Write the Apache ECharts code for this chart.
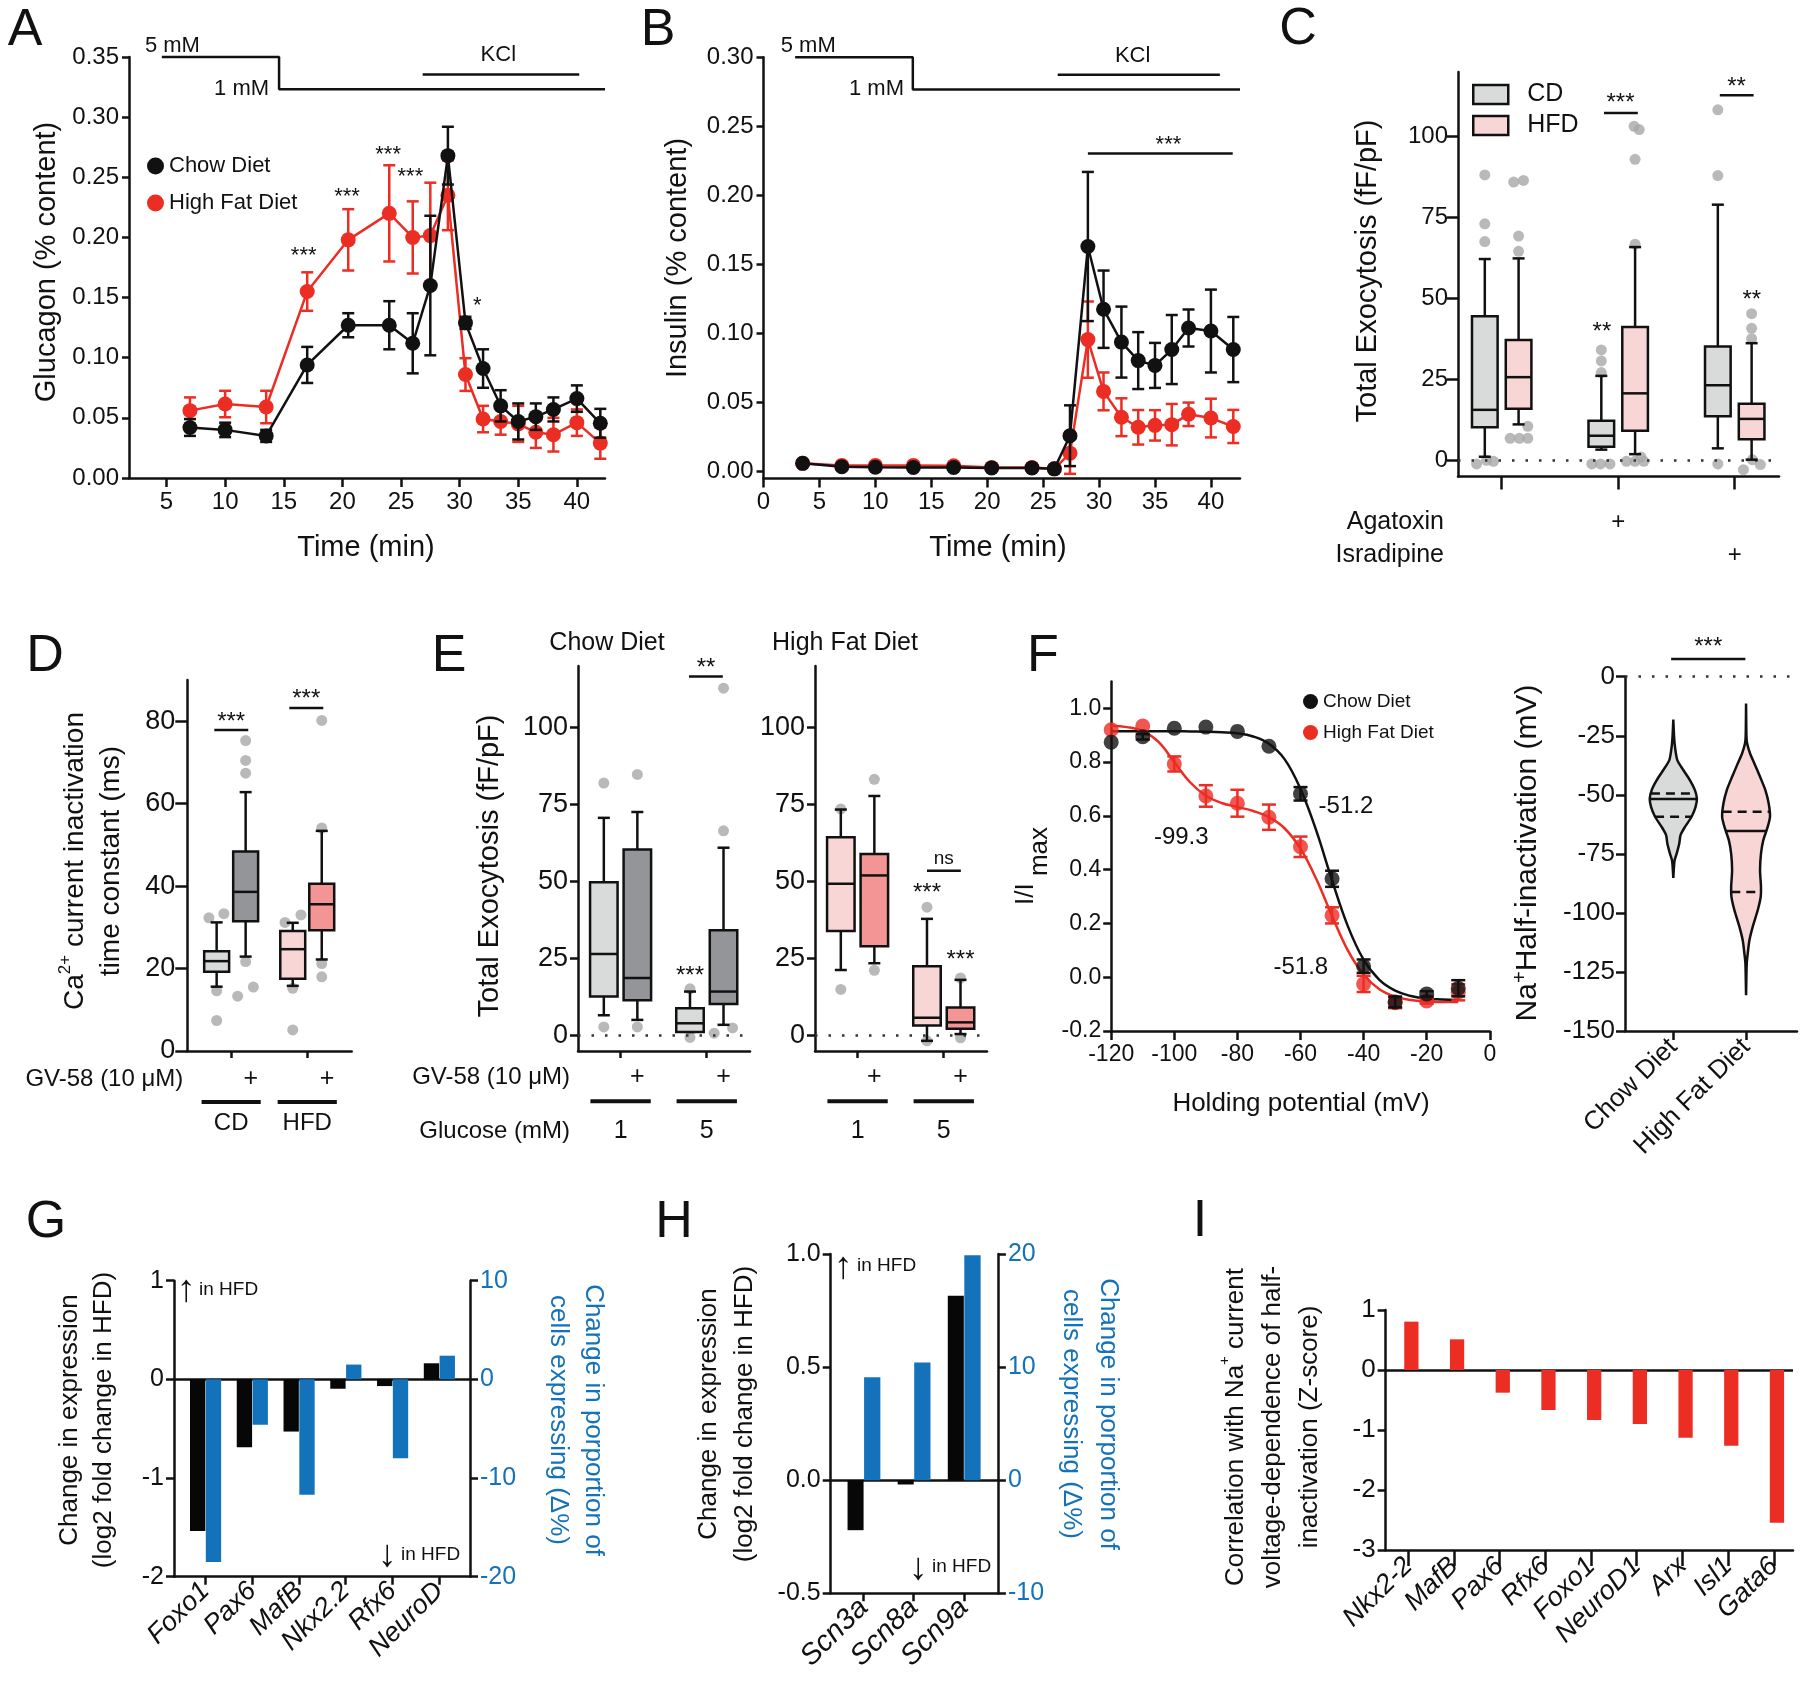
<!DOCTYPE html>
<html><head><meta charset="utf-8">
<script src="https://cdn.jsdelivr.net/npm/echarts@6/dist/echarts.min.js"></script>
<style>html,body{margin:0;padding:0;background:#fff}#c{width:1800px;height:1684px}</style>
</head><body><div id="c"></div>
<script>
// ================= DATA =================
// Panel A – glucagon secretion (% content)
const timeA = [7, 10, 13.5, 17, 20.5, 24, 26, 27.5, 29, 30.5, 32, 33.5, 35, 36.5, 38, 40, 42];
const glucagonChow    = [0.042, 0.040, 0.035, 0.094, 0.127, 0.127, 0.112, 0.160, 0.268, 0.129, 0.091, 0.060, 0.047, 0.051, 0.057, 0.066, 0.0455];
const glucagonChowErr = [0.007, 0.006, 0.005, 0.015, 0.010, 0.020, 0.025, 0.058, 0.024, 0.005, 0.016, 0.013, 0.015, 0.011, 0.010, 0.011, 0.012];
const glucagonHFD     = [0.056, 0.0615, 0.059, 0.155, 0.198, 0.220, 0.200, 0.2015, 0.235, 0.086, 0.049, 0.047, 0.045, 0.038, 0.036, 0.046, 0.029];
const glucagonHFDErr  = [0.011, 0.011, 0.0135, 0.016, 0.0255, 0.040, 0.030, 0.044, 0.029, 0.0136, 0.011, 0.011, 0.015, 0.013, 0.014, 0.011, 0.013];
const ticksTime = [5, 10, 15, 20, 25, 30, 35, 40];
const ticksGlucagon = [0, 0.05, 0.10, 0.15, 0.20, 0.25, 0.30, 0.35];
const stepA = [[4.6, 0.35], [14.6, 0.35], [14.6, 0.3232], [42.4, 0.3232]];
const kclA = [[26.85, 0.3355], [40.2, 0.3355]];
// [text, x1, x2, yLine, textX, textY]
const notesA = [
  ['***', null, null, null, 16.7, 0.1886], ['***', null, null, null, 20.4, 0.238],
  ['***', null, null, null, 23.9, 0.273], ['***', null, null, null, 25.8, 0.2547],
  ['*', null, null, null, 31.5, 0.147], ['5 mM', null, null, null, 5.5, 0.359],
  ['1 mM', null, null, null, 11.4, 0.3238], ['KCl', null, null, null, 33.3, 0.3515]
];

// Panel B – insulin secretion (% content)
const timeB = [3.5, 7, 10, 13.4, 17, 20.4, 24, 26, 27.4, 29, 30.4, 32, 33.5, 35, 36.5, 38, 40, 42];
const insulinChow    = [0.006, 0.0035, 0.0032, 0.003, 0.003, 0.0027, 0.0027, 0.002, 0.026, 0.163, 0.1176, 0.0938, 0.0804, 0.0769, 0.0884, 0.104, 0.1018, 0.0884];
const insulinChowErr = [0, 0, 0, 0, 0, 0, 0, 0, 0.022, 0.054, 0.028, 0.0257, 0.0206, 0.0163, 0.025, 0.0134, 0.030, 0.0236];
const insulinHFD     = [0.006, 0.0045, 0.0045, 0.0045, 0.0042, 0.003, 0.003, 0.002, 0.0134, 0.0956, 0.0581, 0.0394, 0.0321, 0.0335, 0.034, 0.0415, 0.0388, 0.0327];
const insulinHFDErr  = [0, 0, 0, 0, 0, 0, 0, 0, 0.015, 0.0276, 0.0137, 0.0137, 0.0125, 0.011, 0.015, 0.0085, 0.014, 0.012];
const ticksTimeB = [0, 5, 10, 15, 20, 25, 30, 35, 40];
const ticksInsulin = [0, 0.05, 0.10, 0.15, 0.20, 0.25, 0.30];
const stepB = [[2.83, 0.30], [13.35, 0.30], [13.35, 0.2767], [42.6, 0.2767]];
const kclB = [[26.3, 0.2874], [40.8, 0.2874]];
const notesB = [
  ['5 mM', null, null, null, 4.0, 0.308], ['1 mM', null, null, null, 10.1, 0.277],
  ['KCl', null, null, null, 33.0, 0.3013], ['***', 29.0, 41.95, 0.2303, 36.2, 0.240]
];

// Panel C – total exocytosis, box = [min, q1, median, q3, max]
const groupsC = ['Control', 'Agatoxin', 'Isradipine'];
const boxC_CD  = [[1.1, 10.2, 15.6, 44.5, 62.2], [3.3, 4.2, 7.6, 12.2, 26.1], [3.7, 13.6, 23.2, 35.2, 79.0]];
const boxC_HFD = [[11.1, 15.9, 25.7, 37.2, 62.4], [1.9, 9.1, 20.7, 41.2, 65.9], [0.2, 6.5, 12.8, 17.5, 36.2]];
// outliers: [offset within box width, value]
const outC_CD = [
  [[0, 88.2], [0, 73.1], [0, 67.6], [-0.32, -1.1], [0.07, 0], [0.34, -0.3]],
  [[0, 34.1], [0, 30.7], [0, 27.1], [-0.37, -1.1], [-0.03, -1.1], [0.34, -1.1]],
  [[0, 108.3], [0, 88.0], [0, -1.1]]
];
const outC_HFD = [
  [[-0.19, 86.0], [0.19, 86.5], [0, 69.3], [0, 64.6], [0.36, 10.5], [-0.33, 6.8], [0.03, 6.8], [0.36, 6.8]],
  [[-0.04, 103.2], [0.16, 102.2], [0, 93.0], [0, 66.8], [-0.34, -0.3], [0, -0.3], [0.34, -0.3], [0.23, 1.0]],
  [[0, 45.3], [0, 40.8], [0, 37.6], [0.03, 0.2], [-0.32, -2.9], [0.34, -1.3]]
];
const ticksExo = [0, 25, 50, 75, 100];
const notesC = [
  ['**', null, null, null, 0.86, 41.3], ['***', 0.878, 1.168, 107.3, 1.02, 111.8],
  ['**', 1.872, 2.162, 112.8, 2.015, 117], ['**', null, null, null, 2.146, 51]
];

// Panel D – Ca2+ current inactivation time constant (ms)
const groupsD = ['CD', 'HFD'];
const boxD_ctrl = [[15.6, 19.2, 21.8, 24.2, 31.2], [15.8, 17.5, 24.7, 29.1, 31.1]];
const boxD_gv   = [[22.9, 31.5, 38.6, 48.4, 62.8], [22.2, 29.3, 35.6, 40.6, 53.4]];
const outD_ctrl = [
  [[-0.31, 32.3], [0.29, 33.3], [0, 14.6], [0, 7.4]],
  [[-0.31, 31.2], [0.33, 33.0], [0, 15.2], [0, 5.1]]
];
const outD_gv = [
  [[0, 75.3], [0, 70.5], [0, 67.4], [0, 21.7], [-0.32, 13.3], [0.31, 15.5]],
  [[0, 80.2], [0, 54.1], [0, 21.2], [0, 18.0]]
];
const ticksTau = [0, 20, 40, 60, 80];
const notesD = [['***', -0.58, 0.59, 77.9, 0, 81], ['***', 2.005, 3.178, 83.2, 2.59, 86.5]];

// Panel E – total exocytosis with GV-58 at 1 and 5 mM glucose
const glucoseE = ['1', '5'];
const boxE_chow_ctrl = [[6.6, 12.7, 26.5, 49.8, 70.7], [1.2, 1.2, 4.0, 8.9, 14.3]];
const boxE_chow_gv   = [[5.1, 11.5, 18.7, 60.4, 72.6], [3.5, 10.3, 14.3, 34.2, 61.0]];
const boxE_hfd_ctrl  = [[21.3, 34.0, 49.3, 64.4, 73.4], [-1.7, 3.3, 5.8, 22.5, 37.9]];
const boxE_hfd_gv    = [[23.5, 29.0, 52.0, 59.0, 77.8], [0.5, 2.2, 4.3, 9.1, 18.1]];
const outE_chow_ctrl = [[[0, 82.0], [0, 2.8]], [[0, 15.2], [0, -0.6]]];
const outE_chow_gv   = [[[0, 84.8], [0, 2.8]], [[0, 112.8], [0, 66.5], [-0.34, 0.8], [0.33, 2.5]]];
const outE_hfd_ctrl  = [[[0, 73.6], [0, 15.0]], [[0, 41.7], [0, -1.7]]];
const outE_hfd_gv    = [[[0, 83.2], [0, 21.2]], [[0, 18.7], [0, -0.7]]];
const notesEchow = [['***', null, null, null, 2.07, 21], ['**', 2.04, 3.05, 116.6, 2.55, 121]];
const notesEhfd = [['***', null, null, null, 2.07, 48], ['***', null, null, null, 3.07, 26.2], ['ns', 2.07, 3.08, 53.5, 2.57, 57.5, 19]];

// Panel F – steady-state inactivation
const holdingV = [-120, -110, -100, -90, -80, -70, -60, -50, -40, -30, -20, -10];
const iChow    = [0.874, 0.894, 0.926, 0.930, 0.914, 0.859, 0.682, 0.366, 0.041, -0.092, -0.062, -0.041];
const iChowErr = [0, 0.01, 0, 0, 0, 0, 0.025, 0.03, 0.025, 0.02, 0.01, 0.03];
const iHFD     = [0.920, 0.934, 0.793, 0.674, 0.647, 0.595, 0.485, 0.230, -0.025, -0.095, -0.088, -0.056];
const iHFDErr  = [0, 0, 0.028, 0.04, 0.05, 0.047, 0.038, 0.03, 0.03, 0.02, 0.01, 0.03];
const fitV     = [-120, -115, -110, -105, -100, -95, -90, -85, -80, -75, -70, -65, -60, -55, -50, -45, -40, -35, -30, -25, -20, -15, -10];
const fitChow  = [0.915, 0.915, 0.915, 0.915, 0.915, 0.914, 0.913, 0.911, 0.907, 0.895, 0.868, 0.81, 0.70, 0.545, 0.36, 0.19, 0.065, -0.01, -0.05, -0.07, -0.08, -0.083, -0.085];
const fitHFD   = [0.935, 0.93, 0.915, 0.875, 0.80, 0.725, 0.675, 0.648, 0.633, 0.618, 0.595, 0.553, 0.478, 0.365, 0.228, 0.10, 0.01, -0.045, -0.072, -0.085, -0.09, -0.092, -0.092];
const ticksV = [-120, -100, -80, -60, -40, -20, 0];
const ticksI = [-0.2, 0, 0.2, 0.4, 0.6, 0.8, 1.0];
const notesF = [['-51.2', null, null, null, -45.6, 0.634, 24], ['-99.3', null, null, null, -97.8, 0.521, 24], ['-51.8', null, null, null, -59.9, 0.038, 24]];
// violin: [value (mV), half width]
const dietsF = ['Chow Diet', 'High Fat Diet'];
const violinChow = [[-18.1, 0], [-25, 0.01], [-29.7, 0.023], [-35.3, 0.055], [-39.5, 0.137], [-43.8, 0.228], [-48, 0.297], [-51.6, 0.324], [-55.1, 0.306], [-59.3, 0.251], [-63.6, 0.16], [-67, 0.10], [-70.6, 0.082], [-74.9, 0.046], [-77.7, 0.018], [-80.5, 0.009], [-85.2, 0]];
const violinHFD = [[-11.3, 0], [-25, 0.005], [-28.2, 0.014], [-32.5, 0.055], [-36.7, 0.114], [-42.4, 0.192], [-48, 0.265], [-53.7, 0.311], [-59.3, 0.329], [-63.6, 0.297], [-69.2, 0.237], [-74.9, 0.205], [-81.9, 0.192], [-89, 0.205], [-93.2, 0.201], [-98.9, 0.16], [-105.9, 0.091], [-111.6, 0.046], [-117.2, 0.023], [-121.5, 0.009], [-134.9, 0]];
const quartChow = { median: -51.8, q: [-49.4, -59.3] };
const quartHFD = { median: -65.3, q: [-57.2, -91.1] };
const ticksHalf = [-150, -125, -100, -75, -50, -25, 0];
const notesF2 = [['***', -0.03, 0.99, 7.5, 0.48, 14.5]];

// Panel G – transcription factors
const genesG = ['Foxo1', 'Pax6', 'MafB', 'Nkx2.2', 'Rfx6', 'NeuroD'];
const log2FCG = [-1.536, -0.688, -0.529, -0.095, -0.068, 0.163];
const deltaPctG = [-18.5, -4.6, -11.7, 1.5, -8.0, 2.4];
// Panel H – Na+ channel genes
const genesH = ['Scn3a', 'Scn8a', 'Scn9a'];
const log2FCH = [-0.221, -0.019, 0.815];
const deltaPctH = [9.1, 10.4, 19.9];
// Panel I – correlation Z-scores
const genesI = ['Nkx2-2', 'MafB', 'Pax6', 'Rfx6', 'Foxo1', 'NeuroD1', 'Arx', 'Isl1', 'Gata6'];
const zScoreI = [0.806, 0.511, -0.378, -0.667, -0.833, -0.90, -1.128, -1.261, -2.544];

// ================= STYLE / HELPERS =================
const FONT = '"Liberation Sans", Arial, Helvetica, sans-serif';
const BLK = '#111111', RED = '#ec2d24', BLUE = '#1472bb', GREY = '#a8a8a8';
const C_CD = '#d9dbdb', C_CDGV = '#939598', C_HFD = '#f9d6d6', C_HFDGV = '#f29594';

const grid = [], xAxis = [], yAxis = [], series = [], graphic = [];
function clean(o) {
  if (o && typeof o === 'object' && !Array.isArray(o)) {
    for (const k of Object.keys(o)) { if (o[k] === undefined) delete o[k]; else clean(o[k]); }
  }
  return o;
}
function gridAt(l, t, w, h) { grid.push({ left: l, top: t, width: w, height: h, outerBoundsMode: 'none', containLabel: false }); return grid.length - 1; }
function vAxis(gi, min, max, o) {
  o = o || {};
  return clean({
    type: 'value', gridIndex: gi, min: min, max: max, position: o.pos, offset: o.offset, silent: true,
    axisLine: { show: o.line !== false, onZero: false, lineStyle: { color: BLK, width: 2.5 } },
    axisTick: { show: !!o.ticks, customValues: o.ticks, length: o.tl || 9, lineStyle: { color: BLK, width: 2.5 } },
    axisLabel: { show: !!o.labels, customValues: o.labels, formatter: o.fmt, color: o.lc || BLK, fontFamily: FONT,
      fontSize: o.fs || 24, margin: (o.margin == null ? 10 : o.margin), rotate: o.rot,
      fontStyle: o.italic ? 'italic' : 'normal', verticalAlign: o.va },
    splitLine: { show: false },
    name: o.name, nameLocation: o.nameLoc, nameGap: o.nameGap,
    nameTextStyle: o.name ? { fontFamily: FONT, fontSize: o.nfs || 24, color: BLK, align: 'right', verticalAlign: 'middle' } : undefined
  });
}
function addX(a) { if (!a.position) a.position = 'bottom'; xAxis.push(a); return xAxis.length - 1; }
function addY(a) { if (!a.position) a.position = 'left'; yAxis.push(a); return yAxis.length - 1; }
function S(o) { series.push(clean(o)); }
function nearest(v, arr) { let b = 0; arr.forEach((a, i) => { if (Math.abs(a - v) < Math.abs(arr[b] - v)) b = i; }); return b; }

function errSeries(xi, yi, xs, ys, es, color, capHalf, z) {
  S({ type: 'custom', xAxisIndex: xi, yAxisIndex: yi, silent: true, clip: false, z: z,
    data: xs.map((x, i) => [x, ys[i], es[i]]),
    renderItem: function (p, api) {
      const x = api.value(0), m = api.value(1), e = api.value(2);
      if (!e) return null;
      const t = api.coord([x, m + e]), b = api.coord([x, m - e]);
      const st = { stroke: color, lineWidth: 2.5 };
      return { type: 'group', children: [
        { type: 'line', shape: { x1: t[0], y1: t[1], x2: b[0], y2: b[1] }, style: st },
        { type: 'line', shape: { x1: t[0] - capHalf, y1: t[1], x2: t[0] + capHalf, y2: t[1] }, style: st },
        { type: 'line', shape: { x1: b[0] - capHalf, y1: b[1], x2: b[0] + capHalf, y2: b[1] }, style: st }] };
    } });
}
function dotLine(name, xi, yi, xs, ys, color, size, z) {
  S({ type: 'line', name: name, xAxisIndex: xi, yAxisIndex: yi, data: xs.map((x, i) => [x, ys[i]]), symbol: 'circle',
    symbolSize: size, itemStyle: { color: color }, lineStyle: { color: color, width: 2.5 }, silent: true, z: z });
}
function plainLine(xi, yi, pts, z) {
  S({ type: 'line', xAxisIndex: xi, yAxisIndex: yi, data: pts, symbol: 'none', clip: false, silent: true, z: z || 1,
    lineStyle: { color: BLK, width: 2.5 } });
}
function notes(xi, yi, items, fs) {
  S({ type: 'custom', xAxisIndex: xi, yAxisIndex: yi, silent: true, clip: false, z: 20,
    data: items.map(it => [it[4], it[5]]),
    renderItem: function (p, api) {
      const it = items[p.dataIndex];
      const ch = [];
      if (it[1] != null) {
        const a = api.coord([it[1], it[3]]), b = api.coord([it[2], it[3]]);
        ch.push({ type: 'line', shape: { x1: a[0], y1: a[1], x2: b[0], y2: b[1] }, style: { stroke: BLK, lineWidth: 2.5 } });
      }
      const size = it[6] || fs;
      const q = api.coord([it[4], it[5]]);
      const dy = it[0].indexOf('*') >= 0 ? size * 0.22 : 0;
      ch.push({ type: 'text', x: q[0], y: q[1] + dy, style: { text: it[0], fontSize: size, fontFamily: FONT, fill: BLK, align: 'center', verticalAlign: 'middle' } });
      return { type: 'group', children: ch };
    } });
}
function boxes(name, xi, yi, xs, bx, fills, bw, cap) {
  S({ type: 'custom', name: name, xAxisIndex: xi, yAxisIndex: yi, silent: true, clip: false, z: 6,
    itemStyle: { color: fills[0] },
    data: bx.map((b, i) => [xs[i], b[0], b[1], b[2], b[3], b[4]]),
    renderItem: function (p, api) {
      const x = api.value(0);
      const lo = api.coord([x, api.value(1)]), q1 = api.coord([x, api.value(2)]), md = api.coord([x, api.value(3)]),
        q3 = api.coord([x, api.value(4)]), hi = api.coord([x, api.value(5)]);
      const half = api.size([bw, 0])[0] / 2, cx = lo[0];
      const st = { stroke: BLK, lineWidth: 2.5 };
      const fill = fills[p.dataIndex % fills.length];
      return { type: 'group', children: [
        { type: 'line', shape: { x1: cx, y1: q3[1], x2: cx, y2: hi[1] }, style: st },
        { type: 'line', shape: { x1: cx, y1: lo[1], x2: cx, y2: q1[1] }, style: st },
        { type: 'line', shape: { x1: cx - cap, y1: hi[1], x2: cx + cap, y2: hi[1] }, style: st },
        { type: 'line', shape: { x1: cx - cap, y1: lo[1], x2: cx + cap, y2: lo[1] }, style: st },
        { type: 'rect', shape: { x: cx - half, y: q3[1], width: 2 * half, height: q1[1] - q3[1] }, style: { fill: fill, stroke: BLK, lineWidth: 2.5 } },
        { type: 'line', shape: { x1: cx - half, y1: md[1], x2: cx + half, y2: md[1] }, style: st }] };
    } });
}
function dots(xi, yi, xs, outl, bw, size) {
  const pts = [];
  outl.forEach((arr, i) => arr.forEach(o => pts.push([xs[i] + o[0] * bw, o[1]])));
  S({ type: 'scatter', xAxisIndex: xi, yAxisIndex: yi, data: pts, symbolSize: size || 11, itemStyle: { color: GREY }, z: 4, silent: true, clip: false });
}
function refLine(xi, yi, x0, dotted, z) {
  S({ type: 'line', xAxisIndex: xi, yAxisIndex: yi, data: [[x0, 0]], symbol: 'none', lineStyle: { opacity: 0 }, silent: true, z: z || 3,
    markLine: { silent: true, symbol: 'none', label: { show: false }, animation: false,
      lineStyle: dotted ? { color: '#333', width: 2.5, type: [2.5, 11] } : { color: BLK, width: 2.5, type: 'solid' },
      data: [{ yAxis: 0 }] } });
}
function underbars(xi, yi, centers, halfLen, yv) {
  S({ type: 'custom', xAxisIndex: xi, yAxisIndex: yi, silent: true, clip: false, z: 20,
    data: centers.map(c => [c, yv]),
    renderItem: function (p, api) {
      const c = api.value(0);
      const a = api.coord([c - halfLen, yv]), b = api.coord([c + halfLen, yv]);
      return { type: 'line', shape: { x1: a[0], y1: a[1], x2: b[0], y2: b[1] }, style: { stroke: BLK, lineWidth: 4 } };
    } });
}
function bars(xi, yi, vals, color, o0, o1) {
  S({ type: 'custom', xAxisIndex: xi, yAxisIndex: yi, silent: true, z: 5,
    data: vals.map((v, i) => [i, v]),
    renderItem: function (p, api) {
      const i = api.value(0), v = api.value(1);
      const a = api.coord([i + o0, v]), b = api.coord([i + o1, 0]);
      return { type: 'rect', shape: { x: Math.min(a[0], b[0]), y: Math.min(a[1], b[1]), width: Math.abs(b[0] - a[0]), height: Math.abs(b[1] - a[1]) }, style: { fill: color } };
    } });
}
function violin(name, xi, yi, cx, prof, fill, qs) {
  function widthAt(y) {
    for (let i = 0; i < prof.length - 1; i++) {
      const a = prof[i], b = prof[i + 1];
      if (y <= a[0] && y >= b[0]) return a[1] + (b[1] - a[1]) * (y - a[0]) / (b[0] - a[0]);
    }
    return 0;
  }
  S({ type: 'custom', name: name, xAxisIndex: xi, yAxisIndex: yi, silent: true, clip: false, z: 6,
    data: [[cx, qs.median]],
    renderItem: function (p, api) {
      const right = prof.map(q => api.coord([cx + q[1], q[0]]));
      const left = prof.slice().reverse().map(q => api.coord([cx - q[1], q[0]]));
      const ch = [{ type: 'polygon', shape: { points: right.concat(left), smooth: 0.25 }, style: { fill: fill, stroke: BLK, lineWidth: 2.5 } }];
      const lines = [[qs.median, false], [qs.q[0], true], [qs.q[1], true]];
      lines.forEach(l => {
        const w = widthAt(l[0]);
        const a = api.coord([cx - w, l[0]]), b = api.coord([cx + w, l[0]]);
        ch.push({ type: 'line', shape: { x1: a[0], y1: a[1], x2: b[0], y2: b[1] }, style: { stroke: BLK, lineWidth: 2.5, lineDash: l[1] ? [9, 6] : null } });
      });
      return { type: 'group', children: ch };
    } });
}
function txt(x, y, text, fs, o) {
  o = o || {};
  graphic.push(clean({ type: 'text', x: x, y: y, rotation: o.rot || 0, silent: true, z: 50,
    style: { text: text, fontSize: fs, fontFamily: FONT, fill: o.color || BLK, align: o.align || 'center', verticalAlign: 'middle',
      lineHeight: o.lh, rich: o.rich, fontStyle: o.italic ? 'italic' : undefined } }));
}

// ================= PANEL A =================
const gA = gridAt(129, 57, 476, 421);
const xA = addX(vAxis(gA, 1.8, 42.4, { ticks: ticksTime, labels: ticksTime, fs: 24, margin: 12 }));
const yA = addY(vAxis(gA, 0, 0.35, { ticks: ticksGlucagon, labels: ticksGlucagon, fmt: v => v.toFixed(2), fs: 24, tl: 7, margin: 10 }));
errSeries(xA, yA, timeA, glucagonHFD, glucagonHFDErr, RED, 6, 2);
dotLine('High Fat Diet', xA, yA, timeA, glucagonHFD, RED, 15, 3);
errSeries(xA, yA, timeA, glucagonChow, glucagonChowErr, BLK, 6, 4);
dotLine('Chow Diet', xA, yA, timeA, glucagonChow, BLK, 15, 5);
plainLine(xA, yA, stepA); plainLine(xA, yA, kclA);
notes(xA, yA, notesA, 22);

// ================= PANEL B =================
const gB = gridAt(763.5, 57.3, 476.5, 421.1);
const xB = addX(vAxis(gB, 0, 42.6, { ticks: ticksTimeB, labels: ticksTimeB, fs: 24, margin: 12 }));
const yB = addY(vAxis(gB, -0.0049, 0.30, { ticks: ticksInsulin, labels: ticksInsulin, fmt: v => v.toFixed(2), fs: 24, tl: 7, margin: 10 }));
errSeries(xB, yB, timeB, insulinHFD, insulinHFDErr, RED, 6, 2);
dotLine('B HFD', xB, yB, timeB, insulinHFD, RED, 15, 3);
errSeries(xB, yB, timeB, insulinChow, insulinChowErr, BLK, 6, 4);
dotLine('B Chow', xB, yB, timeB, insulinChow, BLK, 15, 5);
plainLine(xB, yB, stepB); plainLine(xB, yB, kclB);
notes(xB, yB, notesB, 22);

// ================= PANEL C =================
const gC = gridAt(1458, 72, 321, 404.5);
const grpC = groupsC.map((g, i) => i);
const xC = addX(vAxis(gC, -0.375, 2.38, { ticks: grpC, tl: 13 }));
addX(vAxis(gC, -0.375, 2.38, { line: false, labels: [1], fmt: () => '+', fs: 24, margin: 0, va: 'middle', offset: 46, name: 'Agatoxin', nameLoc: 'start', nameGap: 14, nfs: 25 }));
addX(vAxis(gC, -0.375, 2.38, { line: false, labels: [2], fmt: () => '+', fs: 24, margin: 0, va: 'middle', offset: 78.5, name: 'Isradipine', nameLoc: 'start', nameGap: 14, nfs: 25 }));
const yC = addY(vAxis(gC, -5, 120, { ticks: ticksExo, labels: ticksExo, fs: 24, tl: 11, margin: 10 }));
const xsC_CD = grpC.map(i => i - 0.145), xsC_HFD = grpC.map(i => i + 0.145);
refLine(xC, yC, 0, true, 2);
dots(xC, yC, xsC_CD, outC_CD, 0.22); dots(xC, yC, xsC_HFD, outC_HFD, 0.22);
boxes('CD', xC, yC, xsC_CD, boxC_CD, [C_CD], 0.22, 6);
boxes('HFD', xC, yC, xsC_HFD, boxC_HFD, [C_HFD], 0.22, 6);
notes(xC, yC, notesC, 24);

// ================= PANEL D =================
const gD = gridAt(187.3, 680, 164.4, 371);
const grpD = [0, 2.624];
const xD = addX(vAxis(gD, -1.512, 4.157, { ticks: grpD, tl: 7 }));
addX(vAxis(gD, -1.512, 4.157, { line: false, labels: grpD.map(g => g + 0.68), fmt: () => '+', fs: 25, margin: 0, va: 'middle', offset: 28, name: 'GV-58 (10 \u03BCM)', nameLoc: 'start', nameGap: 4, nfs: 24 }));
addX(vAxis(gD, -1.512, 4.157, { line: false, labels: grpD, fmt: v => groupsD[nearest(v, grpD)], fs: 24, margin: 0, va: 'middle', offset: 72 }));
const yD = addY(vAxis(gD, 0, 90, { ticks: ticksTau, labels: ticksTau, fs: 27, tl: 12, margin: 12 }));
dots(xD, yD, grpD.map(g => g - 0.5), outD_ctrl, 0.86); dots(xD, yD, grpD.map(g => g + 0.5), outD_gv, 0.86);
boxes('D ctrl', xD, yD, grpD.map(g => g - 0.5), boxD_ctrl, [C_CD, C_HFD], 0.86, 6);
boxes('D gv', xD, yD, grpD.map(g => g + 0.5), boxD_gv, [C_CDGV, C_HFDGV], 0.86, 6);
notes(xD, yD, notesD, 24);
underbars(xD, yD, grpD, 1.02, -12.4);

// ================= PANEL E =================
const grpE = [0, 2.57];
function panelE(left, withNames, bc, bg, oc, og, fc, fg, nts) {
  const g = gridAt(left, 666, 172, 385);
  const x = addX(vAxis(g, -1.27, 3.86, { ticks: grpE, tl: 7 }));
  addX(vAxis(g, -1.27, 3.86, { line: false, labels: grpE.map(v => v + 0.5), fmt: () => '+', fs: 25, margin: 0, va: 'middle', offset: 26,
    name: withNames ? 'GV-58 (10 \u03BCM)' : undefined, nameLoc: 'start', nameGap: 8, nfs: 24 }));
  addX(vAxis(g, -1.27, 3.86, { line: false, labels: grpE, fmt: v => glucoseE[nearest(v, grpE)], fs: 25, margin: 0, va: 'middle', offset: 80,
    name: withNames ? 'Glucose (mM)' : undefined, nameLoc: 'start', nameGap: 8, nfs: 24 }));
  const y = addY(vAxis(g, -5, 120, { ticks: ticksExo, labels: ticksExo, fs: 27, tl: 8, margin: 10 }));
  refLine(x, y, 0, true, 2);
  dots(x, y, grpE.map(v => v - 0.5), oc, 0.82); dots(x, y, grpE.map(v => v + 0.5), og, 0.82);
  boxes('E ctrl', x, y, grpE.map(v => v - 0.5), bc, [fc], 0.82, 6);
  boxes('E gv', x, y, grpE.map(v => v + 0.5), bg, [fg], 0.82, 6);
  notes(x, y, nts, 24);
  underbars(x, y, grpE, 0.9, -21.3);
}
panelE(578, true, boxE_chow_ctrl, boxE_chow_gv, outE_chow_ctrl, outE_chow_gv, C_CD, C_CDGV, notesEchow);
panelE(815, false, boxE_hfd_ctrl, boxE_hfd_gv, outE_hfd_ctrl, outE_hfd_gv, C_HFD, C_HFDGV, notesEhfd);

// ================= PANEL F (left) =================
const gF = gridAt(1111.2, 681.4, 378.6, 349.6);
const xF = addX(vAxis(gF, -120, 0, { ticks: ticksV, labels: ticksV, fs: 23, margin: 12 }));
const yF = addY(vAxis(gF, -0.2, 1.1, { ticks: ticksI, labels: ticksI, fmt: v => v.toFixed(1), fs: 23, tl: 8, margin: 10 }));
S({ type: 'line', xAxisIndex: xF, yAxisIndex: yF, data: fitV.map((v, i) => [v, fitHFD[i]]), symbol: 'none', smooth: 0.4, lineStyle: { color: RED, width: 2.5 }, silent: true, z: 2 });
S({ type: 'line', xAxisIndex: xF, yAxisIndex: yF, data: fitV.map((v, i) => [v, fitChow[i]]), symbol: 'none', smooth: 0.4, lineStyle: { color: BLK, width: 2.5 }, silent: true, z: 3 });
errSeries(xF, yF, holdingV, iHFD, iHFDErr, RED, 7, 4);
S({ type: 'scatter', name: 'High Fat Diet', xAxisIndex: xF, yAxisIndex: yF, data: holdingV.map((v, i) => [v, iHFD[i]]), symbolSize: 15, itemStyle: { color: RED }, silent: true, z: 5 });
errSeries(xF, yF, holdingV, iChow, iChowErr, BLK, 7, 6);
S({ type: 'scatter', name: 'Chow Diet', xAxisIndex: xF, yAxisIndex: yF, data: holdingV.map((v, i) => [v, iChow[i]]), symbolSize: 15, itemStyle: { color: BLK }, silent: true, z: 7 });
notes(xF, yF, notesF, 24);

// ================= PANEL F (violin) =================
const gF2 = gridAt(1625, 676.7, 172, 354.3);
const xF2 = addX(vAxis(gF2, -0.664, 1.70, { ticks: [0, 1], labels: [0, 1], fmt: v => dietsF[nearest(v, [0, 1])], rot: 45, fs: 26, margin: 12 }));
const yF2 = addY(vAxis(gF2, -150, 0, { ticks: ticksHalf, labels: ticksHalf, fs: 26, tl: 9, margin: 10 }));
refLine(xF2, yF2, 0, true, 2);
violin('V chow', xF2, yF2, 0, violinChow, C_CD, quartChow);
violin('V hfd', xF2, yF2, 1, violinHFD, C_HFD, quartHFD);
notes(xF2, yF2, notesF2, 24);

// ================= PANEL G =================
const gG = gridAt(174, 1280.7, 296, 296);
const posG = genesG.map((g, i) => i);
const xG = addX(vAxis(gG, -0.67, 5.66, { ticks: posG, labels: posG, fmt: v => genesG[Math.round(v)], rot: 45, italic: true, fs: 27, tl: 8, margin: 10 }));
const yG = addY(vAxis(gG, -2, 1, { ticks: [-2, -1, 0, 1], labels: [-2, -1, 0, 1], fs: 25, tl: 8, margin: 10 }));
const yG2 = addY(vAxis(gG, -20, 10, { pos: 'right', ticks: [-20, -10, 0, 10], labels: [-20, -10, 0, 10], lc: BLUE, fs: 25, tl: 8, margin: 10 }));
bars(xG, yG, log2FCG, '#070707', -0.328, 0);
bars(xG, yG2, deltaPctG, BLUE, 0.01, 0.338);
refLine(xG, yG, 0, false, 8);

// ================= PANEL H =================
const gH = gridAt(830.7, 1254, 167.2, 339.3);
const posH = genesH.map((g, i) => i);
const xH = addX(vAxis(gH, -0.656, 2.68, { ticks: posH, labels: posH, fmt: v => genesH[Math.round(v)], rot: 45, italic: true, fs: 29, tl: 8, margin: 10 }));
const yH = addY(vAxis(gH, -0.5, 1, { ticks: [-0.5, 0, 0.5, 1], labels: [-0.5, 0, 0.5, 1], fmt: v => v.toFixed(1), fs: 25, tl: 8, margin: 10 }));
const yH2 = addY(vAxis(gH, -10, 20, { pos: 'right', ticks: [-10, 0, 10, 20], labels: [-10, 0, 10, 20], lc: BLUE, fs: 25, tl: 8, margin: 10 }));
bars(xH, yH, log2FCH, '#070707', -0.32, 0);
bars(xH, yH2, deltaPctH, BLUE, 0.01, 0.335);
refLine(xH, yH, 0, false, 8);

// ================= PANEL I =================
const gI = gridAt(1385.6, 1310, 407.4, 240);
const posI = genesI.map((g, i) => i);
const xI = addX(vAxis(gI, -0.495, 8.42, { ticks: posI, labels: posI, fmt: v => genesI[Math.round(v)], rot: 45, italic: true, fs: 27, tl: 16, margin: 12 }));
const yI = addY(vAxis(gI, -3, 1, { ticks: [-3, -2, -1, 0, 1], labels: [-3, -2, -1, 0, 1], fs: 26, tl: 8, margin: 10 }));
bars(xI, yI, zScoreI, RED, -0.087, 0.225);
refLine(xI, yI, 0, false, 8);

// ================= TEXT =================
[['A', 25, 31], ['B', 658, 31], ['C', 1298, 30], ['D', 45, 657], ['E', 449, 657], ['F', 1043, 657], ['G', 46, 1223], ['H', 674, 1223], ['I', 1200, 1222]]
  .forEach(l => txt(l[1], l[2], l[0], 52));
const R90 = Math.PI / 2;
txt(47, 262, 'Glucagon (% content)', 29, { rot: R90 });
txt(366, 548, 'Time (min)', 29);
txt(678, 258, 'Insulin (% content)', 29, { rot: R90 });
txt(998, 548, 'Time (min)', 29);
txt(1368, 271, 'Total Exocytosis (fF/pF)', 29, { rot: R90 });
txt(93, 861, '{n|Ca}{s|2+}{n| current inactivation}\n{n|time constant (ms)}', 28, { rot: R90,
  rich: { n: { fontSize: 28, fontFamily: FONT, lineHeight: 36 }, s: { fontSize: 17, fontFamily: FONT, lineHeight: 36, verticalAlign: 'top' } } });
txt(490, 866, 'Total Exocytosis (fF/pF)', 29, { rot: R90 });
txt(607, 643, 'Chow Diet', 25);
txt(845, 643, 'High Fat Diet', 25);
txt(1033, 866, '{n|I/I}{b| max}', 26, { rot: R90,
  rich: { n: { fontSize: 26, fontFamily: FONT, lineHeight: 40, verticalAlign: 'top' }, b: { fontSize: 26, fontFamily: FONT, lineHeight: 40, verticalAlign: 'bottom' } } });
txt(1301, 1104, 'Holding potential (mV)', 26);
txt(1528, 853, '{n|Na}{s|+}{n|Half-inactivation (mV)}', 30, { rot: R90,
  rich: { n: { fontSize: 30, fontFamily: FONT, lineHeight: 36 }, s: { fontSize: 20, fontFamily: FONT, lineHeight: 36, verticalAlign: 'top' } } });
txt(87, 1420, 'Change in expression\n(log2 fold change in HFD)', 26, { rot: R90, lh: 34 });
txt(576, 1420, 'Change in porportion of\ncells expressing (\u0394%)', 26, { rot: -R90, lh: 35, color: BLUE });
txt(727, 1414, 'Change in expression\n(log2 fold change in HFD)', 26, { rot: R90, lh: 36 });
txt(1090, 1414, 'Change in porportion of\ncells expressing (\u0394%)', 26, { rot: -R90, lh: 37, color: BLUE });
txt(1273, 1427, '{n|Correlation with Na}{s|+}{n| current}\n{n|voltage-dependence of half-}\n{n|inactivation (Z-score)}', 26, { rot: R90,
  rich: { n: { fontSize: 26, fontFamily: FONT, lineHeight: 37 }, s: { fontSize: 15, fontFamily: FONT, lineHeight: 37, verticalAlign: 'top' } } });
// in HFD arrows
txt(186, 1291, '\u2191', 38); txt(199, 1290, 'in HFD', 19, { align: 'left' });
txt(387, 1556, '\u2193', 38); txt(401, 1555, 'in HFD', 19, { align: 'left' });
txt(843, 1268, '\u2191', 38); txt(857, 1266, 'in HFD', 19, { align: 'left' });
txt(918, 1569, '\u2193', 38); txt(932, 1567, 'in HFD', 19, { align: 'left' });

// ================= LEGENDS =================
const legend = [
  { data: [{ name: 'Chow Diet', icon: 'circle', itemStyle: { color: BLK } }, { name: 'High Fat Diet', icon: 'circle', itemStyle: { color: RED } }],
    orient: 'vertical', left: 142, top: 150, itemWidth: 17, itemHeight: 17, itemGap: 15, selectedMode: false,
    textStyle: { fontFamily: FONT, fontSize: 22, color: BLK } },
  { data: [{ name: 'CD', icon: 'rect', itemStyle: { color: C_CD, borderColor: BLK, borderWidth: 2.5 } }, { name: 'HFD', icon: 'rect', itemStyle: { color: C_HFD, borderColor: BLK, borderWidth: 2.5 } }],
    orient: 'vertical', left: 1467, top: 77, itemWidth: 35, itemHeight: 19, itemGap: 6, selectedMode: false,
    textStyle: { fontFamily: FONT, fontSize: 25, color: BLK, padding: [0, 0, 0, 14] } },
  { data: [{ name: 'Chow Diet', icon: 'circle', itemStyle: { color: BLK } }, { name: 'High Fat Diet', icon: 'circle', itemStyle: { color: RED } }],
    orient: 'vertical', left: 1298, top: 687, itemWidth: 15, itemHeight: 15, itemGap: 12, selectedMode: false,
    textStyle: { fontFamily: FONT, fontSize: 19, color: BLK } }
];

const chart = echarts.init(document.getElementById('c'), null, { renderer: 'canvas' });
chart.setOption({
  animation: false, backgroundColor: '#ffffff', textStyle: { fontFamily: FONT },
  grid: grid, xAxis: xAxis, yAxis: yAxis, series: series, legend: legend, graphic: graphic
});
</script></body></html>
